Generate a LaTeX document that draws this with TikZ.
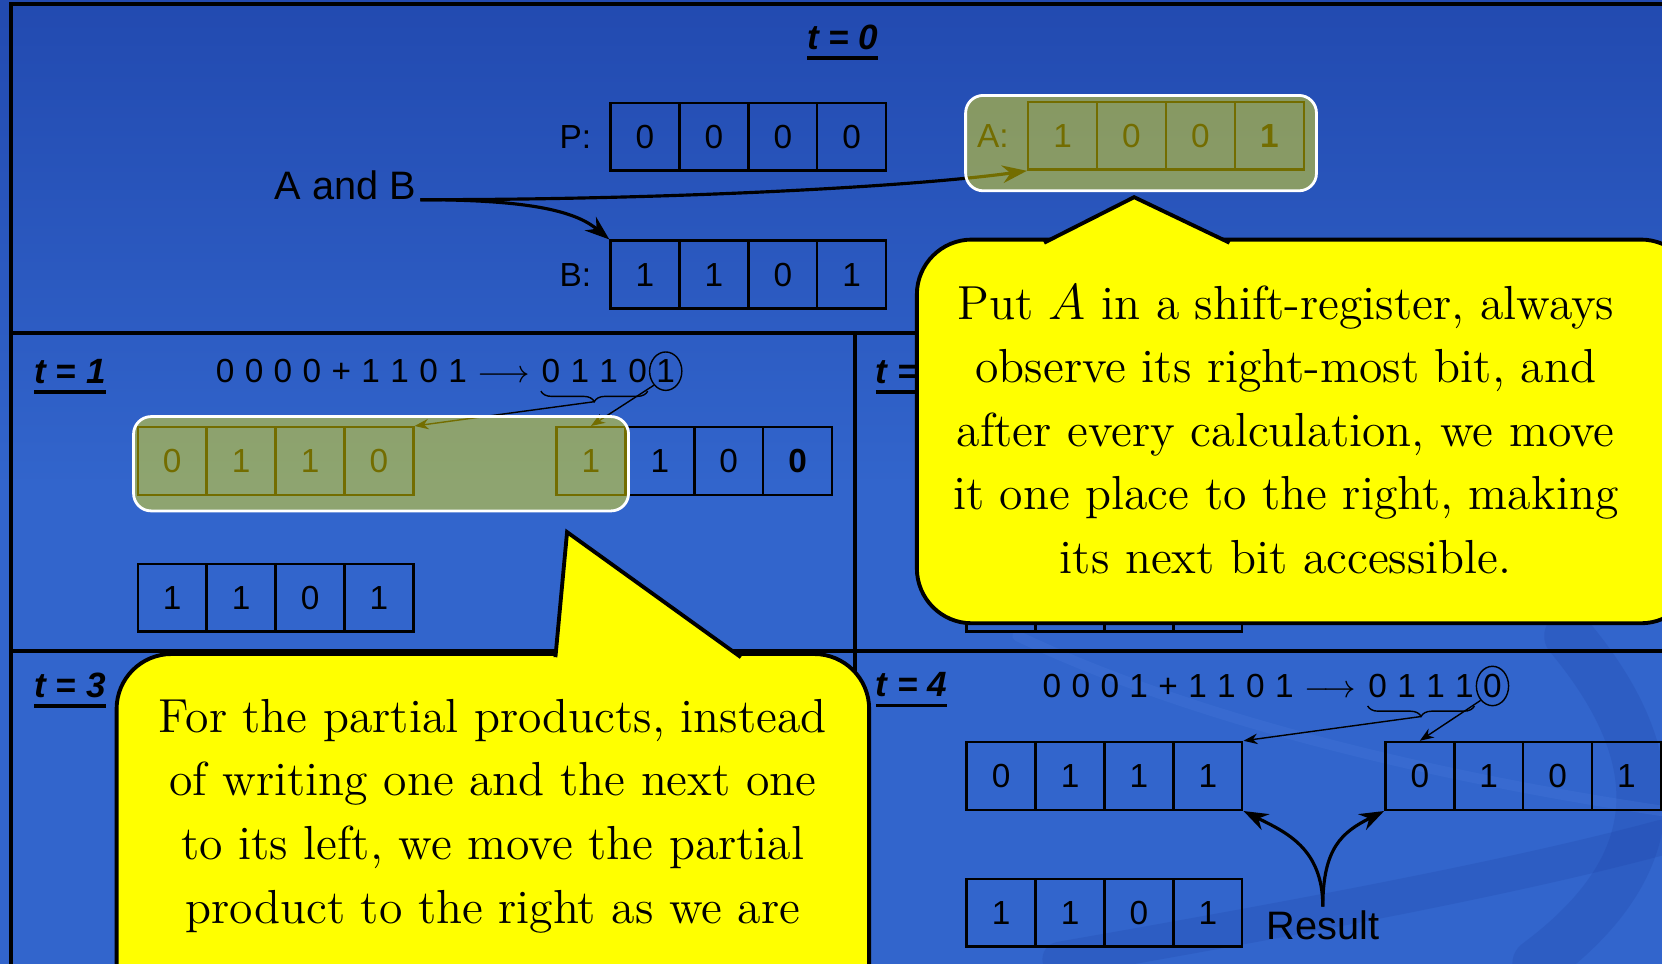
\documentclass[tikz,border=0pt]{standalone}
\usepackage{fontspec}
\setsansfont{Liberation Sans}
\newfontfamily\eqfont[WordSpace=1.12]{Liberation Sans}
\usetikzlibrary{arrows.meta,calc,positioning,shapes.geometric,decorations.pathreplacing}
\definecolor{slidetop}{RGB}{34,74,176}
\definecolor{slideblue}{RGB}{50,101,204}
\definecolor{swirldark}{RGB}{28,62,160}
\definecolor{swirllight}{RGB}{80,130,225}
\definecolor{noteyellow}{RGB}{255,255,0}

\newcommand{\steplabel}[1]{\sbox0{#1}\rlap{\raisebox{-3pt}{\rule{\wd0}{1pt}}}\usebox0}
\newcommand{\bitrow}[4]{%
  \foreach \b [count=\i] in {#4}
    \node[cell] (#1\i) at ({#2+65*\i-32.5},#3) {\b};}

\begin{document}
\begin{tikzpicture}[
  x=0.0106cm, y=-0.0106cm,
  every node/.style={font=\sffamily},
  cell/.style={draw, line width=0.7pt, minimum width=0.689cm, minimum height=0.678cm,
    inner sep=0pt, font=\sffamily\fontsize{9.5}{11}\selectfont},
  reglab/.style={font=\sffamily\fontsize{9.5}{11}\selectfont, inner sep=0pt},
  steptag/.style={font=\sffamily\bfseries\itshape\fontsize{10}{12}\selectfont, inner sep=1pt},
  eqn/.style={font=\eqfont\fontsize{9.5}{11}\selectfont, inner sep=0pt},
  ring/.style={ellipse, draw, line width=0.4pt, inner sep=0.6pt,
    font=\sffamily\fontsize{9.5}{11}\selectfont},
  under/.style={decorate, decoration={brace, mirror, amplitude=3pt}, line width=0.4pt},
  big/.style={font=\sffamily\fontsize{11.3}{13}\selectfont, inner sep=1pt},
  grid line/.style={line width=1.1pt},
  thin arr/.style={-{Stealth[length=4pt, width=3pt]}, line width=0.4pt},
  arr/.style={-{Stealth[length=7pt, width=5pt]}, line width=0.9pt},
  glow/.style={draw=white, line width=0.8pt, fill=yellow, fill opacity=0.45, rounded corners=5pt},
  bubble/.style={draw=black, line width=1.1pt, fill=noteyellow},
  bubble text/.style={font=\rmfamily\fontsize{13.6}{18.1}\selectfont, align=center, inner sep=0pt},
  swirl/.style={line cap=round, opacity=0.2}
]
  \useasboundingbox (0,0) rectangle (1568,909);
  % slide background
  \shade[top color=slidetop, bottom color=slideblue] (0,0) rectangle (1568,460);
  \fill[slideblue] (0,460) rectangle (1568,909);
  \draw[swirl, swirldark, line width=14pt] (1480,600) .. controls (1580,720) and (1570,820) .. (1450,909);
  \draw[swirl, swirldark, line width=10pt] (1000,905) .. controls (1200,870) and (1420,830) .. (1568,790);
  \draw[swirl, swirllight, line width=3pt] (960,600) .. controls (1150,690) and (1400,740) .. (1568,765);

  % table lines
  \draw[grid line] (1600,4) -- (10,4) -- (10,930);
  \draw[grid line] (10,314) -- (1600,314);
  \draw[grid line] (10,614) -- (1600,614);
  \draw[grid line] (807,314) -- (807,930);

  \node[steptag] (t0) at (795,40) {\steplabel{t = 0}};
  \node[steptag] (t1) at (66,355) {\steplabel{t = 1}};
  \node[steptag] (t2) at (860,355) {\steplabel{t = 2}};
  \node[steptag] (t3) at (66,651) {\steplabel{t = 3}};
  \node[steptag] (t4) at (860,651) {\steplabel{t = 4}};

  % t = 0
  \bitrow{p}{576}{129}{0,0,0,0}
  \bitrow{b}{576}{259}{1,1,0,1}
  \bitrow{a}{970}{128}{1,0,0,\textbf{1}}
  \node[reglab, left=5pt of p1] (plab) {P:};
  \node[reglab, left=5pt of b1] (blab) {B:};
  \node[reglab, left=5pt of a1] (alab) {A:};
  \node[big] (andb) at (326,175) {A and B};
  \draw[arr] (andb.base east) .. controls +(250,0) and +(-100,14) .. (a1.south west);
  \draw[arr] (andb.base east) .. controls +(110,0) and +(-30,-25) .. (b1.north west);

  % t = 1
  \node[eqn, anchor=base west] (e1a) at (203,361) {0 0 0 0 + 1 1 0 1 $\longrightarrow$};
  \node[eqn, base right=3pt of e1a] (e1b) {0 1 1 0};
  \node[ring] (e1c) at ($(e1b.east)+(17,0)$) {1};
  \draw[under] ($(e1b.south west)+(0,7)$) -- ($(e1b.south east)+(0,7)$);
  \coordinate (e1tip) at ($(e1b.south)+(0,17)$);
  \bitrow{s1p}{130}{435}{0,1,1,0}
  \bitrow{s1a}{525}{435}{1,1,0,\textbf{0}}
  \bitrow{s1b}{130}{564}{1,1,0,1}
  \draw[thin arr] (e1tip) -- (s1p4.north east);
  \draw[thin arr] (e1c.south west) -- (s1a1.north);

  % t = 2
  \bitrow{s2b}{912}{564}{1,1,0,1}

  % t = 4
  \node[eqn, anchor=base west] (e4a) at (983,658) {0 0 0 1 + 1 1 0 1 $\longrightarrow$};
  \node[eqn, base right=3pt of e4a] (e4b) {0 1 1 1};
  \node[ring] (e4c) at ($(e4b.east)+(17,0)$) {0};
  \draw[under] ($(e4b.south west)+(0,7)$) -- ($(e4b.south east)+(0,7)$);
  \coordinate (e4tip) at ($(e4b.south)+(0,17)$);
  \bitrow{s4p}{912}{732}{0,1,1,1}
  \bitrow{s4a}{1307}{732}{0,1,0,1}
  \bitrow{s4b}{912}{861}{1,1,0,1}
  \draw[thin arr] (e4tip) -- (s4p4.north east);
  \draw[thin arr] (e4c.south west) -- (s4a1.north);
  \node[big] (result) at (1248,873) {Result};
  \draw[arr] (result.north) .. controls +(0,-55) and +(40,20) .. (s4p4.south east);
  \draw[arr] (result.north) .. controls +(0,-55) and +(-40,20) .. (s4a1.south west);

  % highlights
  \draw[glow] (911,90) rectangle (1242,180);
  \draw[glow] (126,393) rectangle (593,482);

  % callouts
  \draw[bubble, rounded corners=0.55cm] (865,226) rectangle (1600,588);
  \filldraw[bubble] (985,229) -- (1070,186) -- (1160,229);
  \node[bubble text] (note1) at (1213,405)
    {Put $A$ in a shift-register, always\\observe its right-most bit, and\\after every calculation, we move\\it one place to the right, making\\its next bit accessible.};

  \draw[bubble, rounded corners=0.55cm] (110,617) rectangle (820,980);
  \filldraw[bubble] (524,620) -- (535,502) -- (699,620);
  \node[bubble text, anchor=north] (note2) at (465,659)
    {For the partial products, instead\\of writing one and the next one\\to its left, we move the partial\\product to the right as we are};
\end{tikzpicture}
\end{document}
